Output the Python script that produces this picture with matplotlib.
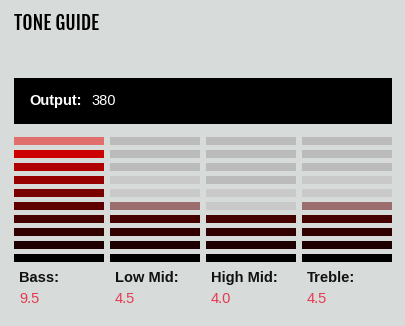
import numpy as np
import matplotlib
matplotlib.use("Agg")
import matplotlib.pyplot as plt
from matplotlib.colors import to_rgb

# data
bands = ["Bass:", "Low Mid:", "High Mid:", "Treble:"]
values = [9.5, 4.5, 4.0, 4.5]
output_value = 380
levels = 10
# level colours, bottom (1) to top (10)
level_colors = ["#000000", "#1e0000", "#330000", "#470000", "#5e0000",
                "#7a0000", "#960000", "#b00000", "#cc0000", "#e60000"]

bg = "#d7dbda"
dark_gray = "#bbbbbb"
light_gray = "#c8c9c8"
red_text = "#e8384f"

fig = plt.figure(figsize=(4.05, 3.26), dpi=100, facecolor=bg)
ax = fig.add_axes([0, 0, 1, 1])
ax.set_xlim(0, 405)
ax.set_ylim(326, 0)
ax.axis("off")
ax.set_facecolor(bg)


def blend(c, alpha):
    c = np.array(to_rgb(c))
    b = np.array(to_rgb(bg))
    return tuple(c * alpha + b * (1 - alpha))


col_left = [14, 110, 206, 302]
col_w = 90
for j, v in enumerate(values):
    full = int(np.floor(v))
    top = int(np.ceil(v))
    for i in range(1, levels + 1):
        if i <= full:
            color = level_colors[i - 1]
        elif i <= top:
            color = blend(level_colors[i - 1], 0.5)
        elif i <= top + 2:
            color = light_gray
        else:
            color = dark_gray
        y = 137 + (levels - i) * 13
        ax.barh(y, col_w, height=8, left=col_left[j], align="edge", color=color)
    ax.text(col_left[j] + 5, 278, bands[j], fontsize=10.5, fontweight="bold",
            color="#111111", va="center", ha="left", family="Liberation Sans")
    ax.text(col_left[j] + 5, 299, f"{v:.1f}", fontsize=10.5, color=red_text,
            va="center", ha="left", family="Liberation Sans")

# output box
ax.barh(78, 378, height=46, left=14, align="edge", color="black")
ax.text(29, 101, "Output:", color="white", fontsize=10.5, fontweight="bold",
        va="center", ha="left", family="Liberation Sans")
ax.text(91, 101, str(output_value), color="white", fontsize=10.5,
        va="center", ha="left", family="Liberation Sans")

ax.text(14, 23, "TONE GUIDE", fontsize=14, color="black",
        va="center", ha="left", family="Fjalla One")

fig.savefig("out.png", dpi=100, facecolor=bg)
